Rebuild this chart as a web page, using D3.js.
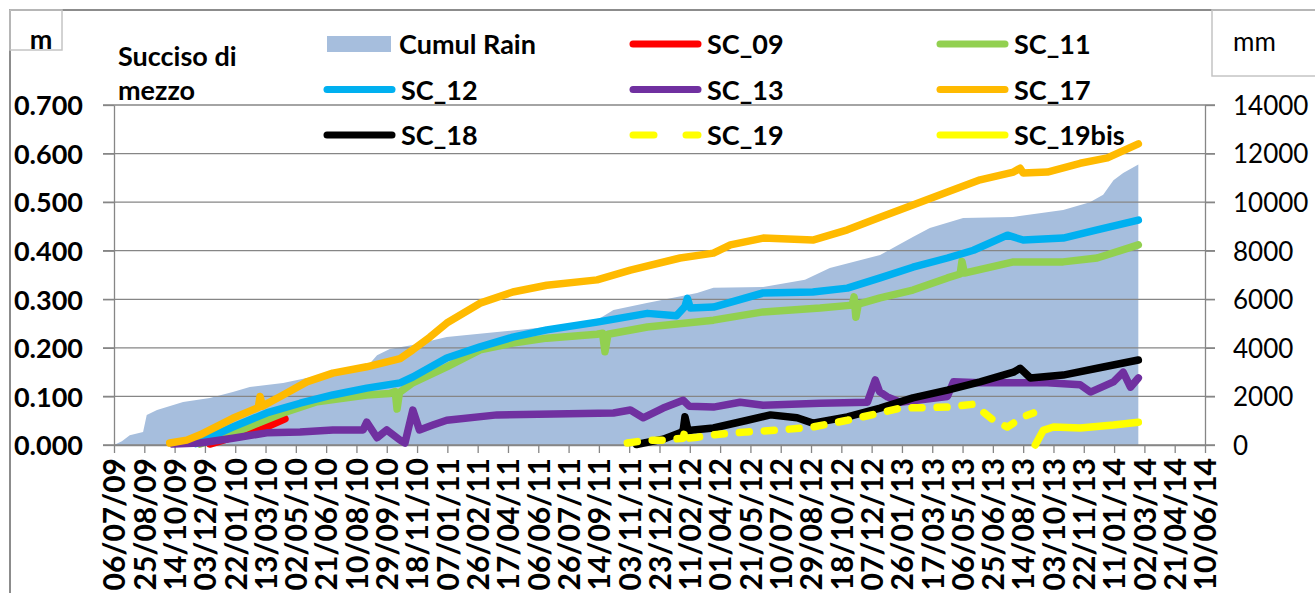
<!DOCTYPE html>
<html lang="en">
<head>
<meta charset="utf-8">
<title>Succiso di mezzo</title>
<script src="https://d3js.org/d3.v7.min.js"></script>
<style>
  body { margin: 0; background: #fff; }
  text { font-family: Lato, "Open Sans", sans-serif; fill: #000; }
</style>
</head>
<body>
<svg width="1315" height="593"></svg>
<script>
// x axis labels (every 50 days)
const tickLabels = ["06/07/09","25/08/09","14/10/09","03/12/09","22/01/10","13/03/10","02/05/10",
  "21/06/10","10/08/10","29/09/10","18/11/10","07/01/11","26/02/11","17/04/11","06/06/11","26/07/11",
  "14/09/11","03/11/11","23/12/11","11/02/12","01/04/12","21/05/12","10/07/12","29/08/12","18/10/12",
  "07/12/12","26/01/13","17/03/13","06/05/13","25/06/13","14/08/13","03/10/13","22/11/13","11/01/14",
  "02/03/14","21/04/14","10/06/14"];
const leftTicks = [0, 0.1, 0.2, 0.3, 0.4, 0.5, 0.6, 0.7];
const rightTicks = [0, 2000, 4000, 6000, 8000, 10000, 12000, 14000];

// cumulative rain, mm
const rainCumul = [["2009-07-06",0],["2009-07-19",150],["2009-08-01",400],["2009-08-23",540],
  ["2009-08-29",1240],["2009-09-15",1440],["2009-10-28",1770],["2009-12-11",1940],["2010-01-18",2180],
  ["2010-02-15",2390],["2010-04-11",2550],["2010-05-20",2760],["2010-07-02",2920],["2010-08-27",3210],
  ["2010-09-13",3700],["2010-10-04",3950],["2010-11-11",4120],["2011-01-06",4450],["2011-03-30",4650],
  ["2011-06-20",4860],["2011-09-11",5150],["2011-10-08",5560],["2011-12-02",5850],["2012-02-23",6260],
  ["2012-03-21",6470],["2012-06-11",6510],["2012-08-19",6800],["2012-09-29",7290],["2012-12-21",7820],
  ["2013-02-13",8560],["2013-03-13",8940],["2013-05-07",9350],["2013-07-28",9390],["2013-10-19",9680],
  ["2013-12-02",10000],["2013-12-24",10300],["2014-01-10",10900],["2014-01-26",11200],["2014-02-20",11550]];

// displacements, m
const sc09 = [["2009-12-11",0.002],["2010-01-18",0.016],["2010-03-04",0.031],["2010-04-14",0.054]];
const sc11 = [["2009-11-25",0.002],["2010-01-30",0.030],["2010-04-11",0.066],["2010-06-06",0.089],
  ["2010-08-27",0.103],["2010-10-04",0.106],["2010-10-13",0.110],["2010-10-16",0.074],["2010-10-20",0.108],
  ["2010-11-11",0.128],["2011-01-06",0.161],["2011-03-02",0.196],["2011-04-25",0.210],["2011-06-20",0.220],
  ["2011-09-11",0.228],["2011-09-20",0.230],["2011-09-24",0.192],["2011-09-29",0.228],["2011-12-03",0.243],
  ["2012-03-21",0.257],["2012-06-11",0.274],["2012-09-13",0.282],["2012-11-05",0.288],["2012-11-08",0.305],
  ["2012-11-11",0.263],["2012-11-15",0.290],["2012-12-21",0.303],["2013-02-13",0.319],["2013-04-11",0.344],
  ["2013-05-02",0.352],["2013-05-05",0.378],["2013-05-09",0.354],["2013-07-29",0.377],["2013-10-19",0.377],
  ["2013-12-14",0.385],["2014-02-20",0.412]];
const sc12 = [["2009-11-18",0.003],["2010-01-18",0.037],["2010-03-15",0.066],["2010-05-09",0.086],
  ["2010-07-02",0.103],["2010-08-27",0.117],["2010-10-21",0.128],["2010-11-11",0.140],["2011-01-06",0.179],
  ["2011-03-02",0.202],["2011-04-25",0.222],["2011-06-20",0.237],["2011-09-11",0.253],["2011-12-03",0.271],
  ["2012-01-20",0.266],["2012-02-03",0.285],["2012-02-07",0.302],["2012-02-12",0.282],["2012-03-21",0.284],
  ["2012-06-11",0.313],["2012-09-01",0.315],["2012-10-28",0.323],["2012-12-21",0.344],["2013-02-13",0.366],
  ["2013-04-11",0.385],["2013-05-24",0.401],["2013-07-19",0.432],["2013-08-14",0.422],["2013-10-19",0.426],
  ["2013-12-14",0.443],["2014-02-20",0.463]];
const sc13 = [["2009-10-11",0.002],["2009-11-25",0.004],["2010-01-18",0.014],["2010-03-15",0.025],
  ["2010-05-09",0.027],["2010-07-02",0.031],["2010-08-21",0.031],["2010-08-27",0.047],["2010-09-13",0.015],
  ["2010-09-29",0.031],["2010-10-21",0.010],["2010-10-29",0.004],["2010-11-11",0.072],["2010-11-22",0.031],
  ["2010-12-14",0.041],["2011-01-06",0.051],["2011-03-30",0.062],["2011-10-08",0.066],["2011-11-05",0.072],
  ["2011-11-26",0.056],["2011-12-29",0.076],["2012-01-31",0.092],["2012-02-10",0.080],["2012-03-21",0.078],
  ["2012-05-04",0.088],["2012-06-11",0.082],["2012-09-13",0.086],["2012-11-30",0.088],["2012-12-13",0.134],
  ["2012-12-20",0.110],["2013-01-02",0.099],["2013-01-23",0.088],["2013-04-11",0.100],["2013-04-21",0.130],
  ["2013-06-04",0.128],["2013-09-23",0.128],["2013-11-16",0.124],["2013-12-03",0.109],["2014-01-10",0.130],
  ["2014-01-26",0.150],["2014-02-07",0.119],["2014-02-20",0.138]];
const sc17 = [["2009-10-06",0.004],["2009-11-03",0.010],["2009-11-25",0.021],["2010-01-18",0.055],
  ["2010-03-01",0.077],["2010-03-04",0.100],["2010-03-08",0.080],["2010-04-11",0.103],["2010-05-20",0.130],
  ["2010-07-02",0.148],["2010-08-27",0.161],["2010-10-21",0.178],["2010-11-11",0.196],["2010-12-09",0.222],
  ["2011-01-06",0.251],["2011-03-02",0.292],["2011-04-25",0.315],["2011-06-20",0.329],["2011-09-11",0.340],
  ["2011-11-05",0.360],["2012-01-26",0.385],["2012-03-21",0.395],["2012-04-18",0.412],["2012-06-11",0.426],
  ["2012-09-01",0.422],["2012-10-28",0.443],["2012-12-21",0.469],["2013-02-13",0.494],["2013-04-11",0.521],
  ["2013-06-04",0.546],["2013-07-29",0.562],["2013-08-09",0.570],["2013-08-14",0.560],["2013-09-23",0.562],
  ["2013-11-16",0.580],["2013-12-31",0.591],["2014-02-20",0.620]];
const sc18 = [["2011-11-15",0.001],["2011-12-29",0.012],["2012-01-26",0.025],["2012-01-31",0.030],
  ["2012-02-03",0.058],["2012-02-08",0.030],["2012-03-21",0.035],["2012-05-16",0.051],["2012-06-23",0.062],
  ["2012-08-06",0.056],["2012-09-01",0.045],["2012-10-28",0.058],["2012-12-21",0.076],["2013-02-13",0.097],
  ["2013-04-11",0.113],["2013-06-04",0.130],["2013-07-29",0.150],["2013-08-09",0.158],["2013-08-26",0.138],
  ["2013-10-19",0.144],["2013-12-14",0.158],["2014-02-20",0.175]];
const sc19 = [["2011-10-31",0.004],["2011-12-03",0.010],["2011-12-29",0.010],["2012-01-31",0.014],
  ["2012-02-03",0.031],["2012-02-08",0.014],["2012-02-23",0.016],["2012-03-21",0.021],["2012-05-16",0.027],
  ["2012-07-09",0.031],["2012-09-01",0.037],["2012-10-28",0.051],["2012-12-21",0.066],["2013-01-23",0.076],
  ["2013-04-11",0.078],["2013-05-24",0.084],["2013-06-26",0.051],["2013-07-19",0.037],["2013-08-14",0.058],
  ["2013-08-31",0.066]];
const sc19bis = [["2013-09-03",0.000],["2013-09-16",0.030],["2013-10-03",0.037],["2013-11-16",0.035],
  ["2014-01-10",0.041],["2014-02-20",0.047]];

const svg = d3.select("svg");
const parse = d3.timeParse("%Y-%m-%d");
const parseTick = d3.timeParse("%d/%m/%y");

const series = [
  {name: "SC_09", data: sc09, color: "#ff0000"},
  {name: "SC_11", data: sc11, color: "#92d050"},
  {name: "SC_12", data: sc12, color: "#00b0f0"},
  {name: "SC_13", data: sc13, color: "#7030a0"},
  {name: "SC_17", data: sc17, color: "#ffba00"},
  {name: "SC_18", data: sc18, color: "#000000"},
  {name: "SC_19", data: sc19, color: "#ffff00", dash: "10,15"},
  {name: "SC_19bis", data: sc19bis, color: "#ffff00"}
];

const xScale = d3.scaleTime()
  .domain([parseTick(tickLabels[0]), parseTick(tickLabels[tickLabels.length - 1])])
  .range([114, 1205]);
const yLeft = d3.scaleLinear().domain([0, 0.7]).range([445, 105]);
const yRight = d3.scaleLinear().domain([0, 14000]).range([445, 105]);

// outer frame and unit boxes
svg.append("path").attr("d", "M10,593V10H1315").attr("fill", "none")
  .attr("stroke", "#8c8c8c").attr("stroke-width", 2);
svg.append("rect").attr("x", 10).attr("y", 10).attr("width", 52).attr("height", 40)
  .attr("fill", "none").attr("stroke", "#c4c4c4").attr("stroke-width", 1.5);
svg.append("rect").attr("x", 1212).attr("y", 10).attr("width", 110).attr("height", 66)
  .attr("fill", "none").attr("stroke", "#c4c4c4").attr("stroke-width", 1.5);
svg.append("text").attr("x", 41).attr("y", 49).attr("text-anchor", "middle")
  .style("font-size", "27px").style("font-weight", 700).text("m");
svg.append("text").attr("x", 1233).attr("y", 51)
  .style("font-size", "26px").text("mm");

// title
svg.append("text").attr("x", 118).attr("y", 66)
  .style("font-size", "27px").style("font-weight", 700).text("Succiso di");
svg.append("text").attr("x", 118).attr("y", 100)
  .style("font-size", "27px").style("font-weight", 700).text("mezzo");

// cumulative rain area
const area = d3.area()
  .x(d => xScale(parse(d[0])))
  .y0(yRight(0))
  .y1(d => yRight(d[1]));
svg.append("path").datum(rainCumul).attr("d", area).attr("fill", "#a6bedd");

// gridlines
svg.append("g").selectAll("line").data(leftTicks).enter().append("line")
  .attr("x1", 103).attr("x2", 1215)
  .attr("y1", d => yLeft(d)).attr("y2", d => yLeft(d))
  .attr("stroke", "#868686").attr("stroke-width", 1.3);

// axes
const leftAxis = svg.append("g").attr("transform", "translate(114,0)")
  .call(d3.axisLeft(yLeft).tickValues(leftTicks).tickFormat(d3.format(".3f"))
    .tickSize(11).tickSizeOuter(0).tickPadding(20));
const rightAxis = svg.append("g").attr("transform", "translate(1205,0)")
  .call(d3.axisRight(yRight).tickValues(rightTicks).tickFormat(d3.format("d"))
    .tickSize(10).tickSizeOuter(0).tickPadding(18));
const bottomAxis = svg.append("g").attr("transform", "translate(0,445)")
  .call(d3.axisBottom(xScale).tickValues(tickLabels.map(parseTick))
    .tickFormat(d3.timeFormat("%d/%m/%y")).tickSize(8).tickSizeOuter(0));

[leftAxis, rightAxis, bottomAxis].forEach(g => {
  g.select(".domain").attr("stroke", "#868686").attr("stroke-width", 1.3);
  g.selectAll(".tick line").attr("stroke", "#868686").attr("stroke-width", 1.3);
  g.selectAll("text").style("font-family", "Lato, sans-serif").attr("fill", "#000");
});
leftAxis.selectAll("text").style("font-size", "27px").style("font-weight", 700).attr("dy", "0.36em");
rightAxis.selectAll("text").style("font-size", "26px").style("font-weight", 400).attr("dy", "0.36em");
bottomAxis.selectAll("text")
  .attr("transform", "rotate(-90)")
  .attr("text-anchor", "end")
  .attr("x", -13).attr("y", 0).attr("dy", "0.36em")
  .style("font-size", "30px").style("font-weight", 700);

// series lines
const line = d3.line()
  .x(d => xScale(parse(d[0])))
  .y(d => yLeft(d[1]));
svg.append("g").selectAll("path").data(series).enter().append("path")
  .attr("d", d => line(d.data))
  .attr("fill", "none")
  .attr("stroke", d => d.color)
  .attr("stroke-width", 7.5)
  .attr("stroke-linecap", "round")
  .attr("stroke-linejoin", "round")
  .attr("stroke-dasharray", d => d.dash || null);

// legend
const legendItems = [{name: "Cumul Rain", color: "#a6bedd", rain: true}].concat(series);
const colX = [327, 633, 940];
const rowY = [44, 89.5, 135];
const legend = svg.append("g").selectAll("g").data(legendItems).enter().append("g")
  .attr("transform", (d, i) => `translate(${colX[i % 3]},${rowY[Math.floor(i / 3)]})`);
legend.filter(d => d.rain).append("rect")
  .attr("x", 0).attr("y", -8).attr("width", 64).attr("height", 16).attr("fill", d => d.color);
legend.filter(d => !d.rain).append("path")
  .attr("d", "M0,0H65")
  .attr("stroke", d => d.color)
  .attr("stroke-width", 7)
  .attr("stroke-linecap", "round")
  .attr("stroke-dasharray", d => d.dash ? "21,32,12" : null);
legend.append("text")
  .attr("x", d => d.rain ? 72 : 74)
  .attr("y", 10)
  .style("font-size", "27px").style("font-weight", 700)
  .text(d => d.name);
</script>
</body>
</html>
